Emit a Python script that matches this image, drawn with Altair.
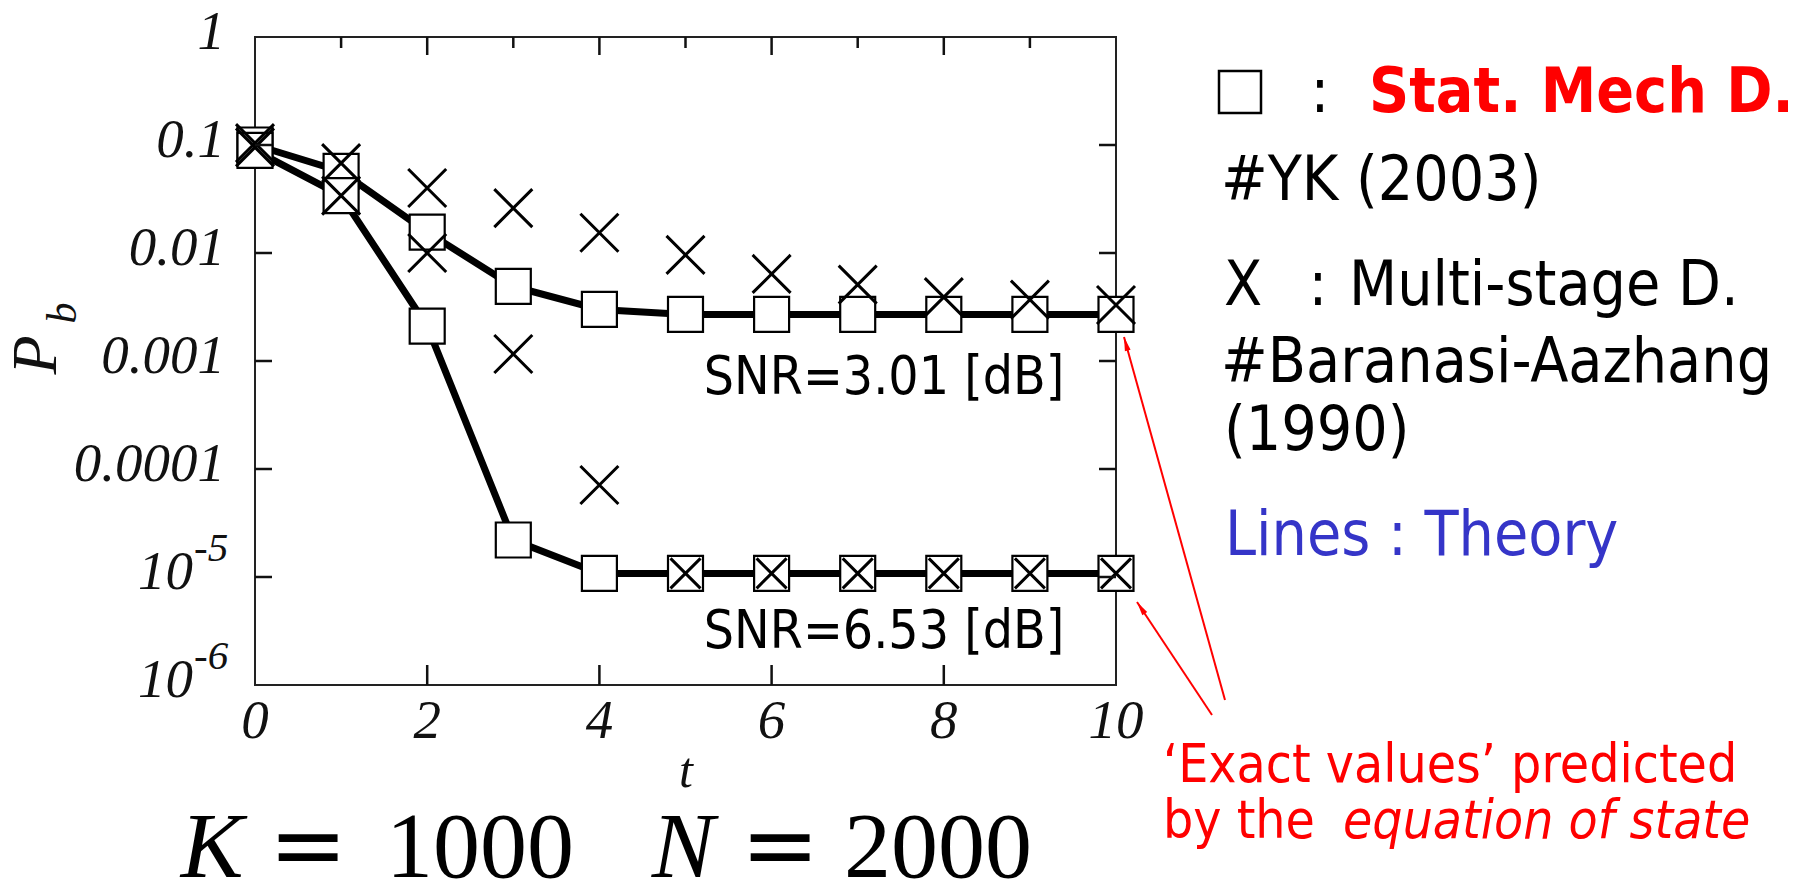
import math
import altair as alt
import pandas as pd

# ---------------- data ----------------
t_steps = list(range(11))

# Stat. Mech. detector (open squares)
stat_mech_snr301 = [0.100, 0.057, 0.0156, 0.0049, 0.0030, 0.0027, 0.0027, 0.0027, 0.0027, 0.0027, 0.0027]
stat_mech_snr653 = [0.089, 0.034, 0.0021, 2.2e-5, 1.08e-5, 1.08e-5, 1.08e-5, 1.08e-5, 1.08e-5, 1.08e-5, 1.08e-5]

# Multi-stage detector (crosses)
multi_stage_snr301 = [0.104, 0.068, 0.040, 0.026, 0.0154, 0.0096, 0.0064, 0.0051, 0.0039, 0.0037, 0.0033]
multi_stage_snr653 = [0.095, 0.034, 0.0100, 0.00116, 7.1e-5, 1.08e-5, 1.08e-5, 1.08e-5, 1.08e-5, 1.08e-5, 1.08e-5]

# Theory (thick lines)
theory_snr301 = [0.100, 0.057, 0.0156, 0.0049, 0.0030, 0.0027, 0.0027, 0.0027, 0.0027, 0.0027, 0.0027]
theory_snr653 = [0.089, 0.034, 0.0021, 2.2e-5, 1.08e-5, 1.08e-5, 1.08e-5, 1.08e-5, 1.08e-5, 1.08e-5, 1.08e-5]

snr_names = ["SNR=3.01 [dB]", "SNR=6.53 [dB]"]
snr_label_t = [9.40, 9.40]
snr_label_p = [4.9e-4, 2.2e-6]

# axis ticks / labels
x_label_values = [0, 2, 4, 6, 8, 10]
x_label_text = ["0", "2", "4", "6", "8", "10"]
x_bottom_ticks = [2, 4, 6, 8]
x_top_major = [2, 4, 6, 8]
x_top_minor = [1, 3, 5, 7, 9]
y_label_values = [1, 0.1, 0.01, 0.001, 0.0001]
y_label_text = ["1", "0.1", "0.01", "0.001", "0.0001"]
y_major_ticks = [0.1, 0.01, 0.001, 0.0001, 1e-5]
y_pow_values = [1e-5, 1e-6]
y_pow_exponents = ["-5", "-6"]

# ---------------- layout ----------------
W, H = 861, 648
OX, OY = 255, 37            # plot origin on the page
PAD_L, PAD_T = OX - 8, OY - 8
SERIF = "Liberation Serif"
SANS = "DejaVu Sans Condensed"
INK = "#111111"
LBL = 55

xs = alt.Scale(domain=[0, 10], nice=False, zero=False)
ys = alt.Scale(type="log", domain=[1e-6, 1], nice=False)
X = lambda f: alt.X(f, scale=xs, axis=None)
Y = lambda f: alt.Y(f, scale=ys, axis=None)


def long(vals_a, vals_b):
    rows = []
    for name, vals in zip(snr_names, [vals_a, vals_b]):
        for tt, v in zip(t_steps, vals):
            rows.append({"t": tt, "p": v, "snr": name})
    return pd.DataFrame(rows)


theory_df = long(theory_snr301, theory_snr653)
square_df = long(stat_mech_snr301, stat_mech_snr653)
cross_df = long(multi_stage_snr301, multi_stage_snr653)

lines = alt.Chart(theory_df).mark_line(color="black", strokeWidth=7).encode(
    x=X("t:Q"), y=Y("p:Q"), detail="snr:N")

squares = alt.Chart(square_df).mark_point(
    shape="square", fill="white", stroke="black", strokeWidth=2.2,
    size=35 * 35, opacity=1, fillOpacity=1).encode(x=X("t:Q"), y=Y("p:Q"))

X_PATH = "M-1,-1L1,1M-1,1L1,-1"
crosses = alt.Chart(cross_df).mark_point(
    shape=X_PATH, stroke="black", strokeWidth=3, opacity=1, filled=False).encode(
    x=X("t:Q"), y=Y("p:Q"),
    size=alt.condition("datum.p < 2e-5", alt.value(30 * 30), alt.value(38 * 38)))


def yticks(x0, x1):
    return alt.Chart(pd.DataFrame({"v": y_major_ticks})).mark_rule(
        color=INK, strokeWidth=2.5).encode(y=Y("v:Q"), x=alt.value(x0), x2=alt.value(x1))


def xticks(vals, y0, y1):
    return alt.Chart(pd.DataFrame({"v": vals})).mark_rule(
        color=INK, strokeWidth=2.5).encode(x=X("v:Q"), y=alt.value(y0), y2=alt.value(y1))


tick_layers = [
    yticks(0, 17), yticks(W - 17, W),
    xticks(x_bottom_ticks, H - 20, H),
    xticks(x_top_major, 0, 18), xticks(x_top_minor, 0, 11),
]

# tick labels
xlab = alt.Chart(pd.DataFrame({"v": x_label_values, "s": x_label_text})).mark_text(
    align="center", baseline="alphabetic", font=SERIF, fontStyle="italic",
    fontSize=LBL, color=INK).encode(x=X("v:Q"), y=alt.value(H + 53), text="s:N")
ylab = alt.Chart(pd.DataFrame({"v": y_label_values, "s": y_label_text})).mark_text(
    align="right", baseline="alphabetic", font=SERIF, fontStyle="italic",
    fontSize=LBL, color=INK, dy=12).encode(y=Y("v:Q"), x=alt.value(-30), text="s:N")

pow_df = pd.DataFrame({"v": y_pow_values, "e": y_pow_exponents})
pow_base = alt.Chart(pow_df).mark_text(
    text="10", align="right", baseline="alphabetic", font=SERIF, fontStyle="italic",
    fontSize=LBL, color=INK, dy=12).encode(y=Y("v:Q"), x=alt.value(-62))
pow_exp = alt.Chart(pow_df).mark_text(
    align="left", baseline="alphabetic", font=SERIF, fontStyle="italic",
    fontSize=41, color=INK, dy=-16).encode(y=Y("v:Q"), x=alt.value(-61), text="e:N")

snr_df = pd.DataFrame({"t": snr_label_t, "p": snr_label_p, "txt": snr_names})
snr_text = alt.Chart(snr_df).mark_text(
    align="right", baseline="alphabetic", font=SANS, fontSize=53, color="black").encode(
    x=X("t:Q"), y=Y("p:Q"), text="txt:N")


def label(txt, x, y, size, font=SANS, color="black", align="left", style="normal",
          weight="normal", angle=0, baseline="alphabetic"):
    return alt.Chart(pd.DataFrame({"k": [0]})).mark_text(
        text=txt, align=align, baseline=baseline, font=font, fontSize=size,
        fontStyle=style, fontWeight=weight, color=color, angle=angle).encode(
        x=alt.value(x - OX), y=alt.value(y - OY))


RED = "#ff0000"
BLUE = "#3535c8"
LEG = 62
CAP = 94
CAP_Y = 877

text_layers = [
    # axis titles
    label("t", 686, 787, 50, font=SERIF, style="italic", align="center", color=INK),
    label("P", 37, 355, 64, font=SERIF, style="italic", align="center",
          baseline="middle", angle=270, color=INK),
    label("b", 63, 313, 42, font=SERIF, style="italic", align="center",
          baseline="middle", angle=270, color=INK),
    # bottom caption K = 1000  N = 2000
    label("K", 212, CAP_Y, CAP, font=SERIF, style="italic", align="center"),
    label("=", 308, CAP_Y, CAP, font="DejaVu Sans", align="center"),
    label("1000", 480, CAP_Y, CAP, font=SERIF, align="center"),
    label("N", 683, CAP_Y, CAP, font=SERIF, style="italic", align="center"),
    label("=", 780, CAP_Y, CAP, font="DejaVu Sans", align="center"),
    label("2000", 938, CAP_Y, CAP, font=SERIF, align="center"),
    # legend block
    label(":", 1320, 112, LEG, align="center"),
    label("Stat. Mech D.", 1369, 112, LEG, color=RED, weight="bold"),
    label("#YK (2003)", 1221, 200, LEG),
    label("X", 1224, 305, LEG),
    label(":", 1318, 305, LEG, align="center"),
    label("Multi-stage D.", 1349, 305, LEG),
    label("#Baranasi-Aazhang", 1221, 382, LEG),
    label("(1990)", 1224, 450, LEG),
    label("Lines : Theory", 1225, 555, LEG, color=BLUE),
    # arrow annotation
    label("\u2018Exact values\u2019 predicted", 1163, 782, 53, color=RED),
    label("by the", 1163, 838, 53, color=RED),
    label("equation of state", 1343, 838, 53, color=RED, style="italic"),
]

legend_square = alt.Chart(pd.DataFrame({"k": [0]})).mark_point(
    shape="square", fill="white", stroke="black", strokeWidth=2.5, size=42 * 42,
    opacity=1, fillOpacity=1).encode(x=alt.value(1240 - OX), y=alt.value(92 - OY))

# red arrows (tail -> tip), page pixel coordinates
arrows = [((1212, 715), (1137, 602)), ((1225, 700), (1124, 337))]
HEAD = "M0,0L0.42,2L-0.42,2Z"
arrow_layers = []
for (tx, ty), (hx, hy) in arrows:
    ang = math.degrees(math.atan2(hx - tx, -(hy - ty))) % 360
    arrow_layers.append(
        alt.Chart(pd.DataFrame({"k": [0]})).mark_rule(color=RED, strokeWidth=2).encode(
            x=alt.value(tx - OX), y=alt.value(ty - OY),
            x2=alt.value(hx - OX), y2=alt.value(hy - OY)))
    arrow_layers.append(
        alt.Chart(pd.DataFrame({"k": [0]})).mark_point(
            shape=HEAD, filled=True, color=RED, size=14 * 14, opacity=1, angle=ang).encode(
            x=alt.value(hx - OX), y=alt.value(hy - OY)))

chart = alt.layer(
    lines, squares, crosses, *tick_layers, xlab, ylab, pow_base, pow_exp, snr_text,
    legend_square, *arrow_layers, *text_layers,
).properties(
    width=W, height=H,
    autosize=alt.AutoSizeParams(type="none"),
    padding={"left": PAD_L, "top": PAD_T, "right": 1814 - 16 - PAD_L - W, "bottom": 884 - 8 - PAD_T - H},
    background="white",
).configure_view(stroke="#222222", strokeWidth=2)

chart.save("out.html", embed_options={"renderer": "svg", "actions": False})
